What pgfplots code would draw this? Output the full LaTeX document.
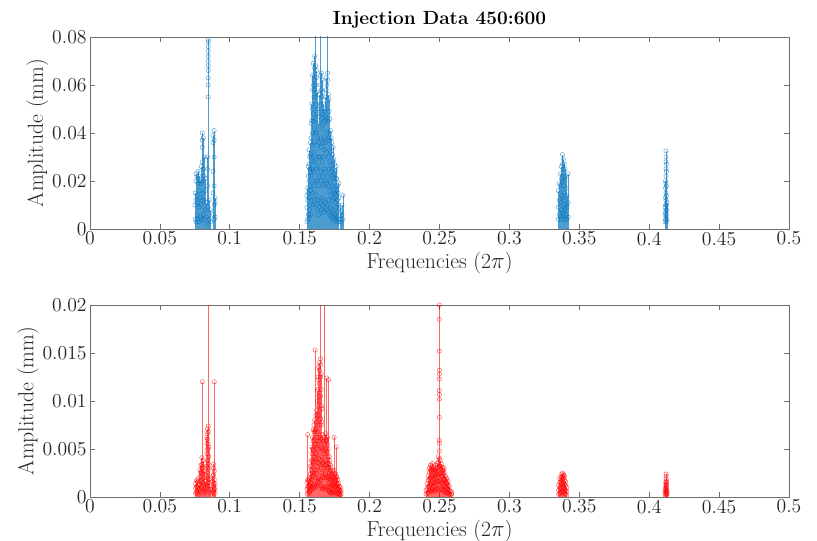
\documentclass[border=0pt]{standalone}
\usepackage{pgfplots}
\pgfplotsset{compat=1.18}
\definecolor{mblue}{RGB}{0,114,189}
\definecolor{mred}{RGB}{255,0,0}
\definecolor{axgray}{RGB}{110,110,110}
\definecolor{txt}{RGB}{38,38,38}
\pgfplotsset{
  stemax/.style={
    width=524.25pt, height=144pt, scale only axis,
    xmin=0, xmax=0.5, ymin=0,
    xtick={0,0.05,...,0.5},
    tick align=inside, major tick length=4pt,
    axis line style={axgray, line width=0.5pt},
    every tick/.style={axgray, line width=0.5pt},
    tick label style={font=\fontsize{14.8}{16}\selectfont, text=txt},
    label style={font=\fontsize{16.3}{18}\selectfont, text=txt},
    xticklabel style={yshift=1.5pt},
    yticklabel style={xshift=1pt},
    /pgf/number format/assume math mode=true,
    /pgf/number format/fixed, /pgf/number format/precision=3,
    scaled y ticks=false, scaled x ticks=false,
    xlabel={Frequencies (2$\pi$)},
    ylabel={Amplitude (mm)},
    xlabel style={yshift=2pt},
    ylabel style={yshift=-4pt},
    clip=true,
  },
  stemblue/.style={ycomb, draw=mblue, draw opacity=0.7, line width=0.6pt, mark=o, mark size=1.6pt,
    mark options={solid, draw=mblue, draw opacity=0.6, line width=0.4pt, fill opacity=0}},
  stemred/.style={ycomb, draw=mred, draw opacity=0.6, line width=0.6pt, mark=o, mark size=1.6pt,
    mark options={solid, draw=mred, draw opacity=0.6, line width=0.4pt, fill opacity=0}},
}
\begin{document}
\begin{tikzpicture}
\useasboundingbox (-67.5pt,-234pt) rectangle (545.25pt,171.75pt);
\begin{axis}[stemax, at={(0pt,0pt)}, anchor=south west, ymax=0.08,
  ytick={0,0.02,0.04,0.06,0.08},
  title={\textbf{Injection Data 450:600}},
  title style={font=\fontsize{14.3}{16}\selectfont\bfseries, text=black, yshift=-3pt}]
\addplot[stemblue] coordinates {
(0.0752,0.004) (0.0752,0.010) (0.0752,0.015)
(0.0758,0.003) (0.0758,0.012) (0.0758,0.020) (0.0758,0.023)
(0.0765,0.006) (0.0765,0.014) (0.0765,0.022)
(0.0772,0.004) (0.0772,0.011) (0.0772,0.019) (0.0772,0.024)
(0.0780,0.003) (0.0780,0.009) (0.0780,0.016) (0.0780,0.022)
(0.0788,0.005) (0.0788,0.013) (0.0788,0.020)
(0.0796,0.004) (0.0796,0.010) (0.0796,0.019) (0.0796,0.026)
(0.0803,0.012) (0.0803,0.020) (0.0803,0.028) (0.0803,0.034) (0.0803,0.037) (0.0803,0.040)
(0.0810,0.006) (0.0810,0.015) (0.0810,0.025) (0.0810,0.038)
(0.0817,0.004) (0.0817,0.012) (0.0817,0.022) (0.0817,0.030)
(0.0824,0.008) (0.0824,0.016) (0.0824,0.021)
(0.0832,0.005) (0.0832,0.011)
(0.0840,0.009) (0.0840,0.018) (0.0840,0.025) (0.0840,0.030)
(0.0846,0.002) (0.0846,0.055) (0.0846,0.060) (0.0846,0.063) (0.0846,0.066) (0.0846,0.068) (0.0846,0.070) (0.0846,0.072) (0.0846,0.074) (0.0846,0.076) (0.0846,0.078) (0.0846,0.079)
(0.0853,0.004) (0.0853,0.012)
(0.0862,0.003) (0.0862,0.008)
(0.0880,0.006) (0.0880,0.015) (0.0880,0.024) (0.0880,0.036) (0.0880,0.039)
(0.0888,0.004) (0.0888,0.010) (0.0888,0.018) (0.0888,0.030) (0.0888,0.037) (0.0888,0.041)
(0.0895,0.005) (0.0895,0.011) (0.0895,0.013)
(0.1552,0.003) (0.1552,0.009) (0.1552,0.014)
(0.1557,0.004) (0.1557,0.012) (0.1557,0.017)
(0.1562,0.006) (0.1562,0.015) (0.1562,0.022) (0.1562,0.026)
(0.1567,0.005) (0.1567,0.013) (0.1567,0.020) (0.1567,0.027) (0.1567,0.033)
(0.1572,0.008) (0.1572,0.018) (0.1572,0.025) (0.1572,0.030)
(0.1577,0.006) (0.1577,0.016) (0.1577,0.024) (0.1577,0.031) (0.1577,0.036)
(0.1582,0.010) (0.1582,0.022) (0.1582,0.030) (0.1582,0.038) (0.1582,0.044)
(0.1587,0.012) (0.1587,0.025) (0.1587,0.035) (0.1587,0.045) (0.1587,0.052)
(0.1592,0.015) (0.1592,0.028) (0.1592,0.040) (0.1592,0.050) (0.1592,0.058) (0.1592,0.064)
(0.1597,0.010) (0.1597,0.024) (0.1597,0.036) (0.1597,0.048) (0.1597,0.060) (0.1597,0.069)
(0.1602,0.018) (0.1602,0.032) (0.1602,0.045) (0.1602,0.055) (0.1602,0.062)
(0.1607,0.012) (0.1607,0.028) (0.1607,0.042) (0.1607,0.058) (0.1607,0.067) (0.1607,0.072)
(0.1610,0.120) (0.1610,0.020) (0.1610,0.040) (0.1610,0.055)
(0.1615,0.014) (0.1615,0.030) (0.1615,0.046) (0.1615,0.060) (0.1615,0.068)
(0.1620,0.010) (0.1620,0.025) (0.1620,0.040) (0.1620,0.052) (0.1620,0.063) (0.1620,0.066)
(0.1625,0.008) (0.1625,0.020) (0.1625,0.035) (0.1625,0.048) (0.1625,0.057)
(0.1630,0.012) (0.1630,0.026) (0.1630,0.038) (0.1630,0.050)
(0.1635,0.006) (0.1635,0.018) (0.1635,0.030) (0.1635,0.044)
(0.1640,0.009) (0.1640,0.022) (0.1640,0.036) (0.1640,0.047) (0.1640,0.056)
(0.1645,0.130) (0.1645,0.030) (0.1645,0.050)
(0.1650,0.011) (0.1650,0.024) (0.1650,0.038) (0.1650,0.052) (0.1650,0.060) (0.1650,0.064)
(0.1655,0.008) (0.1655,0.020) (0.1655,0.034) (0.1655,0.046) (0.1655,0.058) (0.1655,0.065)
(0.1660,0.013) (0.1660,0.028) (0.1660,0.042) (0.1660,0.055) (0.1660,0.062)
(0.1665,0.010) (0.1665,0.022) (0.1665,0.036) (0.1665,0.048) (0.1665,0.057)
(0.1670,0.007) (0.1670,0.018) (0.1670,0.030) (0.1670,0.044) (0.1670,0.052)
(0.1675,0.012) (0.1675,0.025) (0.1675,0.038) (0.1675,0.049)
(0.1680,0.009) (0.1680,0.020) (0.1680,0.033) (0.1680,0.045) (0.1680,0.050)
(0.1685,0.011) (0.1685,0.024) (0.1685,0.036) (0.1685,0.047) (0.1685,0.055)
(0.1690,0.008) (0.1690,0.019) (0.1690,0.032) (0.1690,0.046) (0.1690,0.058) (0.1690,0.063)
(0.1695,0.125) (0.1695,0.040) (0.1695,0.060)
(0.1700,0.010) (0.1700,0.022) (0.1700,0.037) (0.1700,0.052) (0.1700,0.062) (0.1700,0.065)
(0.1705,0.007) (0.1705,0.018) (0.1705,0.030) (0.1705,0.045) (0.1705,0.056)
(0.1710,0.012) (0.1710,0.025) (0.1710,0.038) (0.1710,0.049) (0.1710,0.054)
(0.1715,0.006) (0.1715,0.016) (0.1715,0.028) (0.1715,0.040) (0.1715,0.046)
(0.1720,0.009) (0.1720,0.020) (0.1720,0.032) (0.1720,0.041)
(0.1725,0.005) (0.1725,0.014) (0.1725,0.024) (0.1725,0.034) (0.1725,0.038)
(0.1730,0.008) (0.1730,0.018) (0.1730,0.027) (0.1730,0.036)
(0.1735,0.004) (0.1735,0.012) (0.1735,0.022) (0.1735,0.031)
(0.1740,0.007) (0.1740,0.016) (0.1740,0.025) (0.1740,0.034)
(0.1745,0.005) (0.1745,0.013) (0.1745,0.021) (0.1745,0.029)
(0.1750,0.006) (0.1750,0.015) (0.1750,0.023) (0.1750,0.027)
(0.1755,0.004) (0.1755,0.011) (0.1755,0.018) (0.1755,0.024)
(0.1760,0.006) (0.1760,0.014) (0.1760,0.021) (0.1760,0.026)
(0.1765,0.003) (0.1765,0.009) (0.1765,0.016) (0.1765,0.021)
(0.1770,0.005) (0.1770,0.012) (0.1770,0.018)
(0.1775,0.004) (0.1775,0.010) (0.1775,0.015)
(0.1780,0.003) (0.1780,0.008) (0.1780,0.013) (0.1780,0.019)
(0.1788,0.004) (0.1788,0.009)
(0.1795,0.003) (0.1795,0.007)
(0.1803,0.006) (0.1803,0.010)
(0.1810,0.004) (0.1810,0.014)
(0.3350,0.004) (0.3350,0.009) (0.3350,0.016)
(0.3358,0.006) (0.3358,0.012) (0.3358,0.019)
(0.3365,0.005) (0.3365,0.011) (0.3365,0.018) (0.3365,0.023)
(0.3372,0.004) (0.3372,0.008) (0.3372,0.014) (0.3372,0.021) (0.3372,0.026)
(0.3380,0.007) (0.3380,0.013) (0.3380,0.020) (0.3380,0.027) (0.3380,0.031)
(0.3386,0.006) (0.3386,0.010) (0.3386,0.018) (0.3386,0.025) (0.3386,0.029)
(0.3392,0.005) (0.3392,0.009) (0.3392,0.015) (0.3392,0.022) (0.3392,0.027)
(0.3398,0.004) (0.3398,0.008) (0.3398,0.012) (0.3398,0.020) (0.3398,0.025)
(0.3405,0.006) (0.3405,0.010) (0.3405,0.017) (0.3405,0.022)
(0.3412,0.004) (0.3412,0.009) (0.3412,0.014)
(0.3420,0.005) (0.3420,0.011) (0.3420,0.023)
(0.4113,0.003) (0.4113,0.006) (0.4113,0.009)
(0.4117,0.004) (0.4117,0.007) (0.4117,0.010) (0.4117,0.013) (0.4117,0.017) (0.4117,0.020)
(0.4120,0.005) (0.4120,0.008) (0.4120,0.012) (0.4120,0.015) (0.4120,0.019) (0.4120,0.022) (0.4120,0.025) (0.4120,0.028) (0.4120,0.030) (0.4120,0.0325)
(0.4123,0.003) (0.4123,0.006) (0.4123,0.010) (0.4123,0.014) (0.4123,0.018) (0.4123,0.024) (0.4123,0.027)
(0.4127,0.004) (0.4127,0.008) (0.4127,0.011)
};
\end{axis}
\begin{axis}[stemax, at={(0pt,-201pt)}, anchor=south west, ymax=0.02,
  ytick={0,0.005,0.01,0.015,0.02}]
\addplot[stemred] coordinates {
(0.0755,0.0004) (0.0755,0.0009) (0.0755,0.0014)
(0.0762,0.0005) (0.0762,0.0011) (0.0762,0.0017)
(0.0770,0.0004) (0.0770,0.0010) (0.0770,0.0016) (0.0770,0.0019)
(0.0778,0.0003) (0.0778,0.0008) (0.0778,0.0013)
(0.0786,0.0006) (0.0786,0.0013) (0.0786,0.0021) (0.0786,0.0028)
(0.0793,0.0008) (0.0793,0.0016) (0.0793,0.0025) (0.0793,0.0033)
(0.0800,0.0010) (0.0800,0.0018) (0.0800,0.0026) (0.0800,0.0034) (0.0800,0.0041)
(0.0803,0.0120) (0.0803,0.0030)
(0.0808,0.0007) (0.0808,0.0015) (0.0808,0.0024) (0.0808,0.0032) (0.0808,0.0038)
(0.0815,0.0005) (0.0815,0.0012) (0.0815,0.0020) (0.0815,0.0027)
(0.0822,0.0004) (0.0822,0.0009) (0.0822,0.0016)
(0.0830,0.0006) (0.0830,0.0014) (0.0830,0.0022) (0.0830,0.0030)
(0.0836,0.0010) (0.0836,0.0020) (0.0836,0.0032) (0.0836,0.0045) (0.0836,0.0056) (0.0836,0.0062)
(0.0841,0.0012) (0.0841,0.0025) (0.0841,0.0038) (0.0841,0.0050) (0.0841,0.0060) (0.0841,0.0066) (0.0841,0.0071)
(0.0846,0.0300) (0.0846,0.0015) (0.0846,0.0035) (0.0846,0.0055) (0.0846,0.0068) (0.0846,0.0074)
(0.0851,0.0008) (0.0851,0.0018) (0.0851,0.0030) (0.0851,0.0042) (0.0851,0.0052)
(0.0857,0.0005) (0.0857,0.0011) (0.0857,0.0019)
(0.0864,0.0003) (0.0864,0.0008)
(0.0878,0.0004) (0.0878,0.0010) (0.0878,0.0016) (0.0878,0.0022)
(0.0884,0.0006) (0.0884,0.0014) (0.0884,0.0023) (0.0884,0.0030) (0.0884,0.0034)
(0.0889,0.0120) (0.0889,0.0008) (0.0889,0.0018) (0.0889,0.0027)
(0.0895,0.0004) (0.0895,0.0009) (0.0895,0.0014)
(0.1552,0.0003) (0.1552,0.0008) (0.1552,0.0015)
(0.1557,0.0065) (0.1557,0.0010) (0.1557,0.0018)
(0.1562,0.0004) (0.1562,0.0011) (0.1562,0.0017)
(0.1567,0.0006) (0.1567,0.0013) (0.1567,0.0020)
(0.1572,0.0005) (0.1572,0.0012) (0.1572,0.0019)
(0.1577,0.0007) (0.1577,0.0015) (0.1577,0.0024) (0.1577,0.0032)
(0.1582,0.0008) (0.1582,0.0018) (0.1582,0.0028) (0.1582,0.0038)
(0.1587,0.0010) (0.1587,0.0021) (0.1587,0.0033) (0.1587,0.0045) (0.1587,0.0052)
(0.1592,0.0012) (0.1592,0.0025) (0.1592,0.0038) (0.1592,0.0050) (0.1592,0.0062)
(0.1597,0.0009) (0.1597,0.0022) (0.1597,0.0036) (0.1597,0.0048) (0.1597,0.0058) (0.1597,0.0070)
(0.1602,0.0011) (0.1602,0.0024) (0.1602,0.0037) (0.1602,0.0050) (0.1602,0.0060) (0.1602,0.0068) (0.1602,0.0075)
(0.1607,0.0013) (0.1607,0.0028) (0.1607,0.0042) (0.1607,0.0055) (0.1607,0.0068) (0.1607,0.0080)
(0.1611,0.0153) (0.1611,0.0020) (0.1611,0.0045) (0.1611,0.0070)
(0.1616,0.0010) (0.1616,0.0025) (0.1616,0.0040) (0.1616,0.0055) (0.1616,0.0070) (0.1616,0.0085)
(0.1621,0.0012) (0.1621,0.0028) (0.1621,0.0045) (0.1621,0.0062) (0.1621,0.0078) (0.1621,0.0090)
(0.1626,0.0015) (0.1626,0.0032) (0.1626,0.0050) (0.1626,0.0068) (0.1626,0.0085) (0.1626,0.0100) (0.1626,0.0110)
(0.1631,0.0018) (0.1631,0.0036) (0.1631,0.0055) (0.1631,0.0075) (0.1631,0.0095) (0.1631,0.0112) (0.1631,0.0125)
(0.1636,0.0020) (0.1636,0.0040) (0.1636,0.0062) (0.1636,0.0085) (0.1636,0.0105) (0.1636,0.0122) (0.1636,0.0135)
(0.1641,0.0015) (0.1641,0.0035) (0.1641,0.0058) (0.1641,0.0080) (0.1641,0.0100) (0.1641,0.0118) (0.1641,0.0132) (0.1641,0.0140)
(0.1645,0.0300) (0.1645,0.0050) (0.1645,0.0090)
(0.1649,0.0018) (0.1649,0.0038) (0.1649,0.0060) (0.1649,0.0082) (0.1649,0.0105) (0.1649,0.0125) (0.1649,0.0138) (0.1649,0.0144)
(0.1654,0.0012) (0.1654,0.0030) (0.1654,0.0052) (0.1654,0.0075) (0.1654,0.0095) (0.1654,0.0112) (0.1654,0.0128)
(0.1658,0.0010) (0.1658,0.0025) (0.1658,0.0042) (0.1658,0.0060) (0.1658,0.0078) (0.1658,0.0092)
(0.1663,0.0008) (0.1663,0.0020) (0.1663,0.0035) (0.1663,0.0050) (0.1663,0.0065)
(0.1668,0.0010) (0.1668,0.0022) (0.1668,0.0036) (0.1668,0.0048) (0.1668,0.0058)
(0.1674,0.0300) (0.1674,0.0030)
(0.1679,0.0009) (0.1679,0.0020) (0.1679,0.0033) (0.1679,0.0045) (0.1679,0.0055) (0.1679,0.0062)
(0.1684,0.0011) (0.1684,0.0024) (0.1684,0.0038) (0.1684,0.0050) (0.1684,0.0060) (0.1684,0.0066)
(0.1689,0.0008) (0.1689,0.0020) (0.1689,0.0034) (0.1689,0.0048) (0.1689,0.0058)
(0.1693,0.0124) (0.1693,0.0030) (0.1693,0.0060)
(0.1698,0.0010) (0.1698,0.0022) (0.1698,0.0035) (0.1698,0.0046) (0.1698,0.0055) (0.1698,0.0062)
(0.1703,0.0007) (0.1703,0.0018) (0.1703,0.0030) (0.1703,0.0042) (0.1703,0.0050)
(0.1706,0.0122) (0.1706,0.0020)
(0.1711,0.0006) (0.1711,0.0015) (0.1711,0.0025) (0.1711,0.0035) (0.1711,0.0042)
(0.1716,0.0005) (0.1716,0.0013) (0.1716,0.0022) (0.1716,0.0031) (0.1716,0.0038)
(0.1721,0.0004) (0.1721,0.0011) (0.1721,0.0019) (0.1721,0.0027) (0.1721,0.0033)
(0.1726,0.0005) (0.1726,0.0012) (0.1726,0.0020) (0.1726,0.0028)
(0.1731,0.0004) (0.1731,0.0010) (0.1731,0.0017) (0.1731,0.0024)
(0.1737,0.0006) (0.1737,0.0013) (0.1737,0.0021) (0.1737,0.0027)
(0.1742,0.0005) (0.1742,0.0012) (0.1742,0.0019) (0.1742,0.0025)
(0.1746,0.0062) (0.1746,0.0015) (0.1746,0.0028)
(0.1751,0.0004) (0.1751,0.0010) (0.1751,0.0017) (0.1751,0.0023)
(0.1756,0.0005) (0.1756,0.0011) (0.1756,0.0018) (0.1756,0.0024)
(0.1762,0.0052) (0.1762,0.0012) (0.1762,0.0020)
(0.1767,0.0004) (0.1767,0.0009) (0.1767,0.0015) (0.1767,0.0021)
(0.1772,0.0003) (0.1772,0.0008) (0.1772,0.0013) (0.1772,0.0018)
(0.1778,0.0004) (0.1778,0.0009) (0.1778,0.0014)
(0.1784,0.0003) (0.1784,0.0007) (0.1784,0.0011)
(0.1790,0.0002) (0.1790,0.0006) (0.1790,0.0010)
(0.1797,0.0003) (0.1797,0.0007)
(0.2404,0.0003) (0.2404,0.0007)
(0.2412,0.0004) (0.2412,0.0009) (0.2412,0.0014)
(0.2420,0.0005) (0.2420,0.0011) (0.2420,0.0017) (0.2420,0.0022)
(0.2428,0.0006) (0.2428,0.0012) (0.2428,0.0019) (0.2428,0.0026) (0.2428,0.0030)
(0.2435,0.0007) (0.2435,0.0014) (0.2435,0.0021) (0.2435,0.0028) (0.2435,0.0033)
(0.2442,0.0006) (0.2442,0.0013) (0.2442,0.0020) (0.2442,0.0027) (0.2442,0.0032)
(0.2449,0.0008) (0.2449,0.0015) (0.2449,0.0022) (0.2449,0.0029) (0.2449,0.0035)
(0.2456,0.0007) (0.2456,0.0014) (0.2456,0.0021) (0.2456,0.0027) (0.2456,0.0031)
(0.2463,0.0006) (0.2463,0.0012) (0.2463,0.0019) (0.2463,0.0025) (0.2463,0.0029)
(0.2470,0.0008) (0.2470,0.0015) (0.2470,0.0022) (0.2470,0.0028) (0.2470,0.0033)
(0.2477,0.0007) (0.2477,0.0014) (0.2477,0.0020) (0.2477,0.0026) (0.2477,0.0030)
(0.2484,0.0009) (0.2484,0.0017) (0.2484,0.0024) (0.2484,0.0031) (0.2484,0.0035)
(0.2491,0.0008) (0.2491,0.0016) (0.2491,0.0023) (0.2491,0.0030) (0.2491,0.0036) (0.2491,0.0042)
(0.2499,0.0200) (0.2499,0.0185) (0.2499,0.0152) (0.2499,0.0132) (0.2499,0.0128) (0.2499,0.0123) (0.2499,0.0111) (0.2499,0.0107) (0.2499,0.0102) (0.2499,0.0083) (0.2499,0.0059) (0.2499,0.0056) (0.2499,0.0048) (0.2499,0.0040) (0.2499,0.0032) (0.2499,0.0024) (0.2499,0.0016)
(0.2506,0.0009) (0.2506,0.0017) (0.2506,0.0025) (0.2506,0.0032) (0.2506,0.0038)
(0.2513,0.0008) (0.2513,0.0015) (0.2513,0.0022) (0.2513,0.0029) (0.2513,0.0034)
(0.2520,0.0007) (0.2520,0.0014) (0.2520,0.0021) (0.2520,0.0027) (0.2520,0.0031)
(0.2527,0.0006) (0.2527,0.0012) (0.2527,0.0018) (0.2527,0.0024) (0.2527,0.0028)
(0.2534,0.0007) (0.2534,0.0013) (0.2534,0.0019) (0.2534,0.0025) (0.2534,0.0030)
(0.2541,0.0005) (0.2541,0.0011) (0.2541,0.0017) (0.2541,0.0022)
(0.2548,0.0004) (0.2548,0.0010) (0.2548,0.0015) (0.2548,0.0020)
(0.2555,0.0005) (0.2555,0.0009) (0.2555,0.0014) (0.2555,0.0018)
(0.2562,0.0004) (0.2562,0.0008) (0.2562,0.0012) (0.2562,0.0016)
(0.2570,0.0003) (0.2570,0.0007) (0.2570,0.0011)
(0.2578,0.0002) (0.2578,0.0006)
(0.2587,0.0003) (0.2587,0.0005)
(0.3352,0.0003) (0.3352,0.0007) (0.3352,0.0012)
(0.3360,0.0004) (0.3360,0.0009) (0.3360,0.0015) (0.3360,0.0019)
(0.3367,0.0005) (0.3367,0.0010) (0.3367,0.0016) (0.3367,0.0021)
(0.3374,0.0004) (0.3374,0.0009) (0.3374,0.0014) (0.3374,0.0020) (0.3374,0.0024)
(0.3381,0.0006) (0.3381,0.0011) (0.3381,0.0017) (0.3381,0.0022) (0.3381,0.0025)
(0.3388,0.0005) (0.3388,0.0010) (0.3388,0.0015) (0.3388,0.0020) (0.3388,0.0023)
(0.3395,0.0004) (0.3395,0.0008) (0.3395,0.0013) (0.3395,0.0018) (0.3395,0.0022)
(0.3402,0.0003) (0.3402,0.0007) (0.3402,0.0012) (0.3402,0.0016)
(0.3410,0.0002) (0.3410,0.0006) (0.3410,0.0010)
(0.4114,0.0002) (0.4114,0.0005) (0.4114,0.0008)
(0.4118,0.0003) (0.4118,0.0006) (0.4118,0.0009) (0.4118,0.0012) (0.4118,0.0015)
(0.4121,0.0004) (0.4121,0.0007) (0.4121,0.0010) (0.4121,0.0013) (0.4121,0.0016) (0.4121,0.0019) (0.4121,0.0022) (0.4121,0.0024)
(0.4124,0.0002) (0.4124,0.0005) (0.4124,0.0008) (0.4124,0.0011) (0.4124,0.0014) (0.4124,0.0017)
(0.4128,0.0003) (0.4128,0.0006)
};
\end{axis}
\end{tikzpicture}
\end{document}
